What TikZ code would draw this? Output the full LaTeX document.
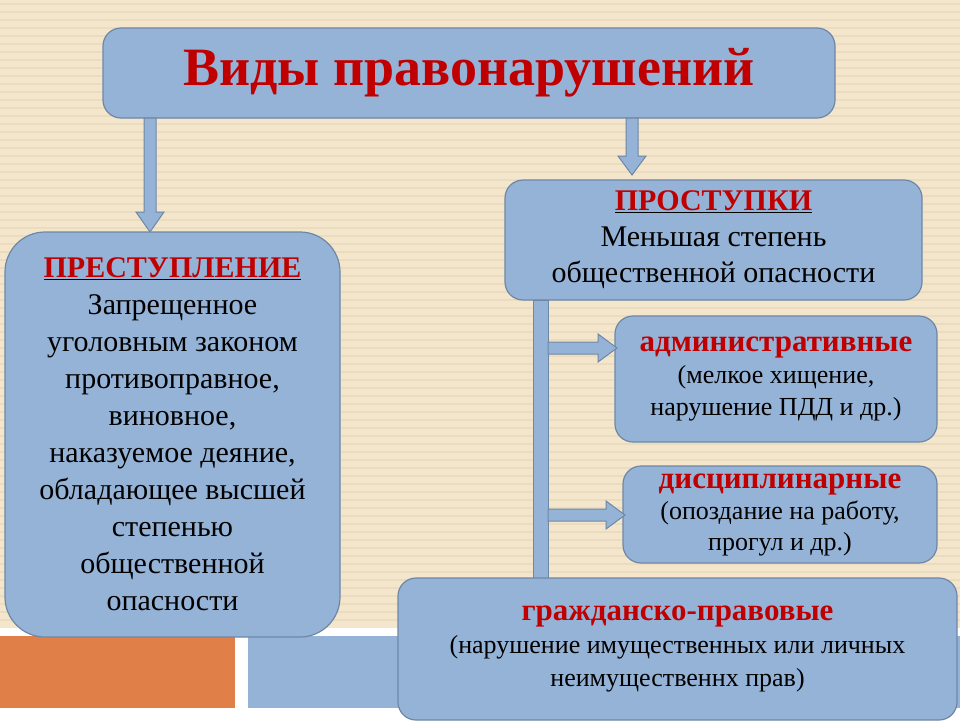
\documentclass[tikz,border=0pt]{standalone}
\usepackage{fontspec}
\setmainfont{Liberation Serif}
\usetikzlibrary{positioning}
\definecolor{boxblue}{RGB}{149,179,215}
\definecolor{boxline}{RGB}{110,135,165}
\definecolor{darkred}{RGB}{192,0,0}
\definecolor{beige}{RGB}{243,230,204}
\definecolor{stripe}{RGB}{236,220,190}
\definecolor{orangebar}{RGB}{224,128,72}
\newcommand{\ttl}[1]{\textcolor{darkred}{\textbf{#1}}}
\newcommand{\ulttl}[1]{\underline{\ttl{#1}}}
\tikzset{
	kind/.style={draw=boxline,fill=boxblue,line width=1.2pt,rounded corners=18pt,align=center,inner sep=0pt},
	barrow/.style={draw=boxline,fill=boxblue,line width=1pt}
}
\begin{document}
\begin{tikzpicture}[x=1pt,y=-1pt]
	\useasboundingbox (0,0) rectangle (960,720);
	%% Background %%
	\fill[beige] (0,0) rectangle (960,628);
	\foreach \y in {4,12,...,624} \draw[stripe,line width=2pt] (0,\y) -- (960,\y);
	\fill[white] (0,628) rectangle (960,720);
	\fill[orangebar] (0,636) rectangle (235,708);
	\fill[boxblue] (248,636) rectangle (960,708);
	%% Boxes %%
	\node[kind,minimum width=732pt,minimum height=90pt,font=\fontsize{54}{60}\selectfont] (title) at (469,73) {\ttl{Виды правонарушений}};
	%% Arrows from title %%
	\draw[barrow] (144,118) -- (156,118) -- (156,212) -- (164,212) -- (150,232) -- (136,212) -- (144,212) -- cycle;
	\draw[barrow] (626,118) -- (638,118) -- (638,156) -- (646,156) -- (632,175) -- (618,156) -- (626,156) -- cycle;
	\node[kind,rounded corners=40pt,minimum width=335pt,minimum height=405pt,font=\fontsize{30}{37}\selectfont] (crime) at (172.5,434.5) {\ulttl{ПРЕСТУПЛЕНИЕ}\\Запрещенное\\уголовным законом\\противоправное,\\виновное,\\наказуемое деяние,\\обладающее высшей\\степенью\\общественной\\опасности};
	\node[kind,minimum width=417pt,minimum height=120pt,font=\fontsize{30}{36}\selectfont] (minor) at (713.5,240) {\ulttl{ПРОСТУПКИ}\\Меньшая степень\\общественной опасности};
	%% Vertical bar %%
	\draw[barrow] (533,300) rectangle (548,582);
	\node[kind,minimum width=322pt,minimum height=126pt,font=\fontsize{26}{32}\selectfont] (admin) at (776,379) {\fontsize{31}{32}\selectfont\ttl{административные}\\(мелкое хищение,\\нарушение ПДД и др.)};
	\node[kind,minimum width=314pt,minimum height=97pt,font=\fontsize{26}{31}\selectfont] (disc) at (780,514.5) {\fontsize{31}{31}\selectfont\ttl{дисциплинарные}\\(опоздание на работу,\\прогул и др.)};
	\draw[barrow] (548,342) -- (598,342) -- (598,334) -- (617,348) -- (598,362) -- (598,354) -- (548,354) -- cycle;
	\draw[barrow] (548,509) -- (606,509) -- (606,501) -- (625,515) -- (606,529) -- (606,521) -- (548,521) -- cycle;
	\node[kind,minimum width=559pt,minimum height=142pt,font=\fontsize{26}{33}\selectfont] (civil) at (677.5,649) {\fontsize{31}{36}\selectfont\ttl{гражданско-правовые}\\(нарушение имущественных или личных\\неимущественнх прав)};
\end{tikzpicture}
\end{document}
